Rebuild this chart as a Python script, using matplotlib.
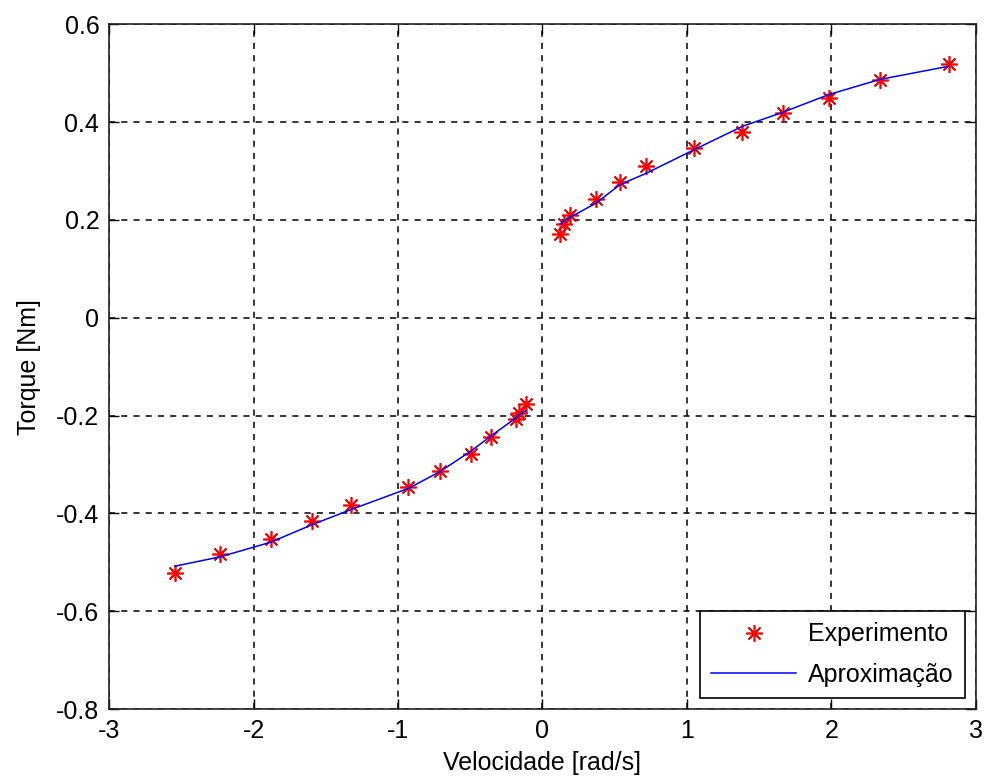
import matplotlib
matplotlib.use("Agg")
import matplotlib.pyplot as plt

plt.rcParams['font.family'] = ['Liberation Sans', 'DejaVu Sans']

# Experimental data (negative and positive velocities)
vel_exp = [-2.544, -2.232, -1.881, -1.593, -1.323, -0.928, -0.711, -0.496, -0.357, -0.184, -0.161, -0.115,
           0.123, 0.150, 0.190, 0.370, 0.537, 0.717, 1.047, 1.383, 1.665, 1.981, 2.335, 2.813]
torque_exp = [-0.522, -0.484, -0.452, -0.416, -0.382, -0.346, -0.314, -0.278, -0.244, -0.208, -0.195, -0.176,
              0.171, 0.192, 0.210, 0.242, 0.278, 0.310, 0.347, 0.380, 0.418, 0.449, 0.485, 0.519]

# Fitted approximation, negative branch
vel_fit_neg = [-2.544, -2.232, -1.881, -1.593, -1.323, -0.928, -0.711, -0.496, -0.357, -0.184, -0.161, -0.115]
torque_fit_neg = [-0.508, -0.489, -0.459, -0.423, -0.392, -0.349, -0.315, -0.273, -0.242, -0.205, -0.198, -0.190]
# Fitted approximation, positive branch
vel_fit_pos = [0.123, 0.150, 0.190, 0.370, 0.537, 0.717, 1.047, 1.383, 1.665, 1.981, 2.335, 2.813]
torque_fit_pos = [0.191, 0.198, 0.205, 0.234, 0.272, 0.295, 0.343, 0.391, 0.420, 0.456, 0.487, 0.514]

xticks = [-3, -2, -1, 0, 1, 2, 3]
yticks = [-0.8, -0.6, -0.4, -0.2, 0, 0.2, 0.4, 0.6]

fig = plt.figure(figsize=(9.85, 7.80), dpi=100)
ax = fig.add_axes([0.1107, 0.091, 0.880, 0.878])

ax.plot(vel_exp, torque_exp, linestyle='none', marker=(8, 2, 0), color='red',
        markersize=12, markeredgewidth=1.2, label='Experimento')
ax.plot(vel_fit_neg, torque_fit_neg, color='blue', linewidth=1.1, label='Aproximação')
ax.plot(vel_fit_pos, torque_fit_pos, color='blue', linewidth=1.1)

ax.set_xlim(-3, 3)
ax.set_ylim(-0.8, 0.6)
ax.set_xticks(xticks)
ax.set_xticklabels([str(t) for t in xticks])
ax.set_yticks(yticks)
ax.set_yticklabels(['-0.8', '-0.6', '-0.4', '-0.2', '0', '0.2', '0.4', '0.6'])
ax.tick_params(direction='in', length=7, width=1, top=True, right=True, labelsize=18, pad=7)
ax.grid(True, color='black', linestyle=(0, (4, 4)), linewidth=1.1)
for s in ax.spines.values():
    s.set_linewidth(1.2)
    s.set_color('#222222')

ax.set_xlabel('Velocidade [rad/s]', fontsize=18, labelpad=6)
ax.set_ylabel('Torque [Nm]', fontsize=18, labelpad=11)

leg = ax.legend(loc='lower right', fontsize=18, frameon=True, fancybox=False,
                edgecolor='black', framealpha=1, handlelength=3.4, borderaxespad=0.45,
                borderpad=0.45, labelspacing=0.65, handletextpad=0.45)
leg.get_frame().set_linewidth(1.2)

fig.savefig('out.png', dpi=100)
